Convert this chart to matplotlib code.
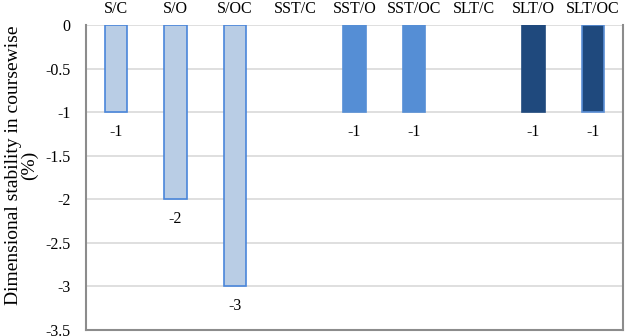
import matplotlib.pyplot as plt

plt.rcParams['font.family'] = ['Liberation Serif', 'DejaVu Serif']

categories = ['S/C', 'S/O', 'S/OC', 'SST/C', 'SST/O', 'SST/OC', 'SLT/C', 'SLT/O', 'SLT/OC']
values = [-1, -2, -3, 0, -1, -1, 0, -1, -1]
fill_colors = ['#B9CDE5', '#B9CDE5', '#B9CDE5', '#558ED5', '#558ED5', '#558ED5',
               '#1F497D', '#1F497D', '#1F497D']
edge_colors = ['#4A86DA', '#4A86DA', '#4A86DA', '#558ED5', '#558ED5', '#558ED5',
               '#1F497D', '#1F497D', '#5B8FD6']
y_ticks = [0, -0.5, -1, -1.5, -2, -2.5, -3, -3.5]

fig = plt.figure(figsize=(6.25, 3.36), dpi=100)
ax = fig.add_axes([86 / 625, 6 / 336, 537 / 625, 305 / 336])

x = list(range(len(categories)))
# zero-valued bars get no outline so they stay invisible
widths = [1.2 if v != 0 else 0 for v in values]
ax.bar(x, values, width=0.37, color=fill_colors, edgecolor=edge_colors,
       linewidth=widths, zorder=3)

# value labels under each non-zero bar
for xi, v in zip(x, values):
    if v != 0:
        ax.annotate(f'{v:g}', (xi, v), xytext=(0, -14), textcoords='offset points',
                    ha='center', va='center', fontsize=11.5)

ax.set_xlim(-0.5, len(categories) - 0.5)
ax.set_ylim(-3.5, 0)
ax.set_yticks(y_ticks)
ax.set_yticklabels([f'{t:g}' for t in y_ticks], fontsize=11.5)
ax.xaxis.tick_top()
ax.set_xticks(x)
ax.set_xticklabels(categories, fontsize=11.5)
ax.tick_params(axis='x', length=0, pad=6)
ax.tick_params(axis='y', length=0, pad=11)

ax.yaxis.grid(True, color='#D9D9D9', linewidth=1.2, zorder=0)
ax.set_axisbelow(True)
for side in ['left', 'bottom', 'right']:
    ax.spines[side].set_color('#8C8C8C')
    ax.spines[side].set_linewidth(1.5)
ax.spines['top'].set_visible(False)

ax.set_ylabel('Dimensional stability in coursewise\n(%)', fontsize=14, linespacing=0.85)
ax.yaxis.set_label_coords(-0.09, 0.54)

fig.savefig('out.png', dpi=100)
